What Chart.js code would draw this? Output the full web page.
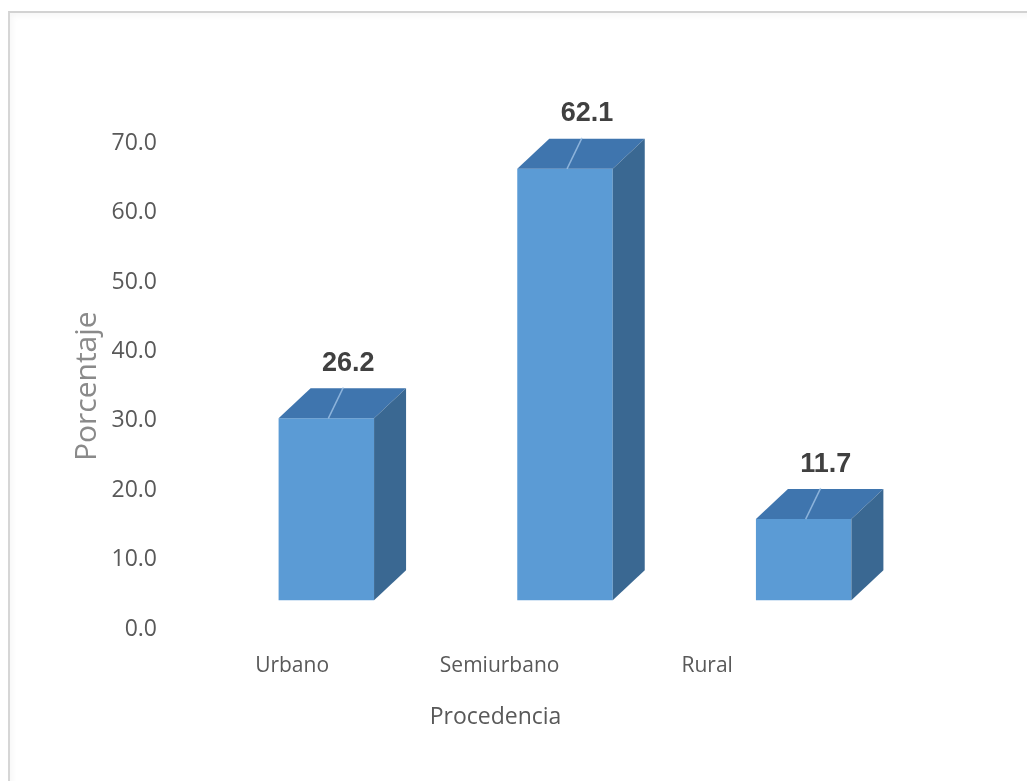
<!DOCTYPE html>
<html>
<head>
<meta charset="utf-8">
<title>Procedencia</title>
<script src="https://cdn.jsdelivr.net/npm/chart.js@4.4.1/dist/chart.umd.min.js"></script>
<style>
  html, body { margin: 0; padding: 0; background: #fff; }
  #wrap { position: relative; width: 1027px; height: 781px; overflow: hidden; }
  #frame {
    position: absolute; left: 8px; top: 11px; width: 1100px; height: 900px;
    border-top: 2px solid #d2d2d2; border-left: 2px solid #d6d6d6;
    box-shadow: inset 2px 3px 6px rgba(0, 0, 0, 0.04);
  }
  #chart { position: absolute; left: 0; top: 0; }
</style>
</head>
<body>
<div id="wrap">
  <div id="frame"></div>
  <canvas id="chart" width="1027" height="781"></canvas>
</div>
<script>
const categories = ['Urbano', 'Semiurbano', 'Rural'];
const percentages = [26.2, 62.1, 11.7];
const yTicks = [0, 10, 20, 30, 40, 50, 60, 70];

// front faces sit a little above the axis floor (3D view)
const FLOOR_OFFSET = 4.18;
const DEPTH_X = 32;
const DEPTH_Y = 30;

const FRONT = '#5B9BD5';
const TOP = '#3F75AE';
const SIDE = '#3A6892';
const TEXT = '#595959';
const SANS = "'Open Sans', sans-serif";

// ── 3D faces + value labels ─────────────────────────────
const bar3d = {
  id: 'bar3d',
  afterDatasetsDraw(chart) {
    const ctx = chart.ctx;
    const meta = chart.getDatasetMeta(0);
    meta.data.forEach((bar, i) => {
      const { x, y, base, width } = bar.getProps(['x', 'y', 'base', 'width'], true);
      const l = x - width / 2;
      const r = x + width / 2;
      ctx.save();

      ctx.fillStyle = TOP;
      ctx.beginPath();
      ctx.moveTo(l, y);
      ctx.lineTo(l + DEPTH_X, y - DEPTH_Y);
      ctx.lineTo(r + DEPTH_X, y - DEPTH_Y);
      ctx.lineTo(r, y);
      ctx.closePath();
      ctx.fill();

      ctx.fillStyle = SIDE;
      ctx.beginPath();
      ctx.moveTo(r, y);
      ctx.lineTo(r + DEPTH_X, y - DEPTH_Y);
      ctx.lineTo(r + DEPTH_X, base - DEPTH_Y);
      ctx.lineTo(r, base);
      ctx.closePath();
      ctx.fill();

      // leader line across the top face
      ctx.strokeStyle = 'rgba(160, 195, 230, 0.8)';
      ctx.lineWidth = 1.5;
      ctx.beginPath();
      ctx.moveTo(x + 2, y);
      ctx.lineTo(x + 17, y - DEPTH_Y - 1);
      ctx.stroke();

      ctx.fillStyle = '#404040';
      ctx.font = "bold 27px 'Liberation Sans', Arial, sans-serif";
      ctx.textAlign = 'center';
      ctx.textBaseline = 'middle';
      ctx.fillText(percentages[i].toFixed(1), x + 22, y - DEPTH_Y - 25);
      ctx.restore();
    });
  }
};

new Chart(document.getElementById('chart'), {
  type: 'bar',
  data: {
    labels: categories,
    datasets: [{
      data: percentages,
      backgroundColor: FRONT,
      borderWidth: 0,
      barPercentage: 0.4,
      categoryPercentage: 1,
      xAxisID: 'x',
      yAxisID: 'yBar'
    }]
  },
  options: {
    responsive: false,
    animation: false,
    layout: { padding: { left: 68, right: 104, top: 143, bottom: 50 } },
    plugins: {
      legend: { display: false },
      tooltip: { enabled: false },
      title: {
        display: true,
        position: 'bottom',
        text: 'Procedencia',
        color: TEXT,
        font: { family: SANS, size: 23, weight: 'normal' },
        padding: { top: 6, bottom: 0 }
      }
    },
    scales: {
      x: { type: 'category', display: false, offset: true },
      yBar: { type: 'linear', display: false, min: -FLOOR_OFFSET, max: 70 - FLOOR_OFFSET },
      y: {
        type: 'linear',
        position: 'left',
        min: 0,
        max: 70,
        grid: { display: false, drawTicks: false },
        border: { display: false },
        afterBuildTicks: s => { s.ticks = yTicks.map(v => ({ value: v })); },
        afterFit: s => { s.width = 139; },
        ticks: {
          padding: 50,
          color: TEXT,
          font: { family: SANS, size: 23 },
          callback: v => v.toFixed(1)
        },
        title: {
          display: true,
          text: 'Porcentaje',
          color: '#8a8a8a',
          font: { family: SANS, size: 30 },
          padding: 1
        }
      },
      xLabel: {
        type: 'linear',
        position: 'bottom',
        offset: false,
        bounds: 'data',
        min: -0.41,
        max: 3.04,
        grid: { display: false, drawTicks: false },
        border: { display: false },
        afterBuildTicks: s => { s.ticks = categories.map((c, i) => ({ value: i })); },
        afterFit: s => { s.height = 68; },
        ticks: {
          padding: 24,
          color: TEXT,
          autoSkip: false,
          maxRotation: 0,
          font: { family: SANS, size: 21 },
          callback: v => categories[v] ?? ''
        }
      }
    }
  },
  plugins: [bar3d]
});
</script>
</body>
</html>
